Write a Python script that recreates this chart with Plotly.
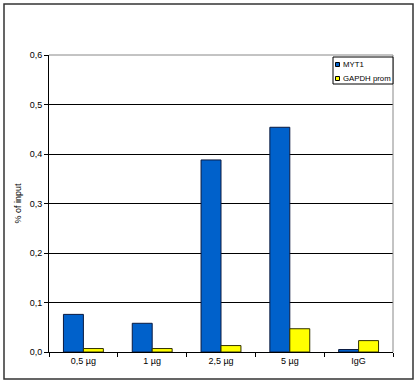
import plotly.graph_objects as go

categories = ["0,5 µg", "1 µg", "2,5 µg", "5 µg", "IgG"]
myt1 = [0.076, 0.058, 0.388, 0.454, 0.005]
gapdh = [0.007, 0.007, 0.013, 0.047, 0.023]
y_ticks = [0.0, 0.1, 0.2, 0.3, 0.4, 0.5, 0.6]
series_names = ["MYT1", "GAPDH prom"]
series_colors = ["#0061CB", "#FFFF00"]

W, H = 418, 384
L, R, T, B = 49, 25, 55, 32
pw, ph = W - L - R, H - T - B

def px(x):
    return (x - L) / pw

def py(y):
    return (H - B - y) / ph

fig = go.Figure()
fig.add_trace(go.Bar(name=series_names[0], x=categories, y=myt1, showlegend=False,
                     marker=dict(color=series_colors[0], line=dict(color="#0a1a40", width=1))))
fig.add_trace(go.Bar(name=series_names[1], x=categories, y=gapdh, showlegend=False,
                     marker=dict(color=series_colors[1], line=dict(color="#303000", width=1))))

shapes = [
    dict(type="line", xref="paper", yref="paper", x0=0, x1=1, y0=1, y1=1,
         line=dict(color="#888888", width=1)),
    dict(type="line", xref="paper", yref="paper", x0=1, x1=1, y0=0, y1=1,
         line=dict(color="#888888", width=1)),
    dict(type="rect", xref="paper", yref="paper",
         x0=px(4), x1=px(413), y0=py(379), y1=py(4),
         line=dict(color="#333333", width=1.5)),
    # legend box
    dict(type="rect", xref="paper", yref="paper",
         x0=px(333), x1=px(393), y0=py(84), y1=py(57),
         fillcolor="white", line=dict(color="black", width=1)),
]
annotations = []
for i, (nm, col) in enumerate(zip(series_names, series_colors)):
    cy = 64.5 + i * 14
    shapes.append(dict(type="rect", xref="paper", yref="paper",
                       x0=px(335.5), x1=px(339.5), y0=py(cy + 2), y1=py(cy - 2),
                       fillcolor=col, line=dict(color="black", width=1)))
    annotations.append(dict(text=nm, xref="paper", yref="paper",
                            x=px(340.5), y=py(cy), xanchor="left", yanchor="middle",
                            showarrow=False, font=dict(size=7.8)))

fig.update_layout(
    width=W, height=H,
    margin=dict(l=L, r=R, t=T, b=B, pad=0),
    paper_bgcolor="white", plot_bgcolor="white",
    separators=", ",
    font=dict(family="Liberation Sans, Arial, sans-serif", size=9, color="black"),
    barmode="group", bargap=0.42, bargroupgap=0,
    showlegend=False,
    xaxis=dict(showline=True, linecolor="black", linewidth=1,
               ticks="outside", ticklen=4, tickcolor="black",
               tickson="boundaries", showgrid=False, fixedrange=True,
               tickfont=dict(size=9)),
    yaxis=dict(range=[0, 0.6], tickvals=y_ticks, tickformat=".1f",
               showline=True, linecolor="black", linewidth=1,
               ticks="outside", ticklen=4, tickcolor="black",
               showgrid=True, gridcolor="black", gridwidth=1,
               zeroline=False,
               title=dict(text="% of input", font=dict(size=9), standoff=6),
               tickfont=dict(size=9)),
    shapes=shapes,
    annotations=annotations,
)

fig.write_html("out.html")
